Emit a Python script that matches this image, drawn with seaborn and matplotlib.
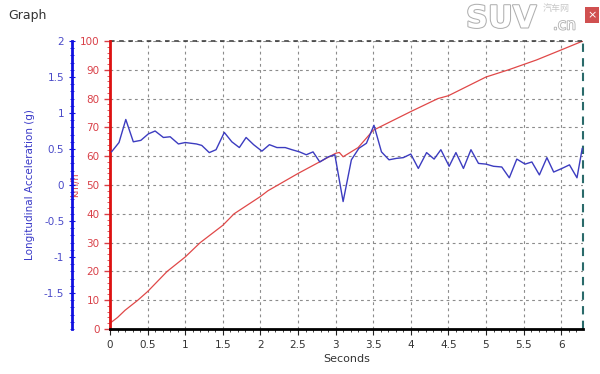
import seaborn as sns
import matplotlib.pyplot as plt
import matplotlib.patheffects as pe
from matplotlib.ticker import MultipleLocator
import pandas as pd

# speed trace (km/h)
t_speed = [0, 0.1, 0.2, 0.37, 0.5, 0.76, 1.0, 1.2, 1.5, 1.65, 2.0, 2.1, 2.5, 2.75,
           3.0, 3.05, 3.1, 3.3, 3.5, 4.0, 4.36, 4.5, 5.0, 5.3, 5.67, 6.0, 6.27, 6.29]
speed = [2, 4, 6.5, 10, 13, 20, 25, 30, 36, 40, 46, 48, 54, 57.5,
         61, 61.3, 59.8, 63, 69, 75.5, 80, 81, 87.5, 90, 93.4, 96.9, 99.8, 100]

# longitudinal acceleration (g)
t_acc = [0.02, 0.12, 0.21, 0.31, 0.41, 0.51, 0.60, 0.71, 0.80, 0.91, 1.00, 1.15, 1.22,
         1.32, 1.41, 1.52, 1.62, 1.72, 1.81, 1.91, 2.02, 2.12, 2.22, 2.33, 2.42, 2.52,
         2.61, 2.70, 2.79, 2.90, 2.99, 3.10, 3.21, 3.31, 3.41, 3.51, 3.61, 3.71, 3.81,
         3.90, 4.00, 4.10, 4.21, 4.31, 4.40, 4.51, 4.60, 4.70, 4.80, 4.90, 5.00, 5.10,
         5.21, 5.31, 5.41, 5.52, 5.61, 5.71, 5.81, 5.90, 6.01, 6.11, 6.21, 6.28]
acc = [0.46, 0.59, 0.91, 0.60, 0.62, 0.71, 0.75, 0.66, 0.67, 0.57, 0.59, 0.57, 0.55,
       0.45, 0.49, 0.73, 0.60, 0.52, 0.66, 0.56, 0.47, 0.56, 0.52, 0.52, 0.49, 0.46,
       0.42, 0.46, 0.32, 0.39, 0.42, -0.23, 0.35, 0.51, 0.58, 0.83, 0.46, 0.35, 0.37,
       0.38, 0.43, 0.23, 0.45, 0.36, 0.49, 0.26, 0.45, 0.23, 0.49, 0.30, 0.29, 0.26,
       0.25, 0.10, 0.36, 0.29, 0.32, 0.14, 0.38, 0.18, 0.23, 0.28, 0.10, 0.51]

x_ticks = [0, 0.5, 1, 1.5, 2, 2.5, 3, 3.5, 4, 4.5, 5, 5.5, 6]
speed_ticks = list(range(0, 101, 10))
acc_ticks = [-1.5, -1, -0.5, 0, 0.5, 1, 1.5, 2]

df_speed = pd.DataFrame({"t": t_speed, "v": speed})
df_acc = pd.DataFrame({"t": t_acc, "g": acc})

sns.set_style("white")
plt.rcParams['font.family'] = ['DejaVu Sans', 'Noto Sans CJK SC']

RED = "#d94048"
BLUE = "#3c3cc0"

fig = plt.figure(figsize=(6, 3.74), dpi=100)
ax = fig.add_axes([110/600, 1-329/374, 473/600, 288/374])
ax2 = ax.twinx()

sns.lineplot(data=df_acc, x="t", y="g", ax=ax2, color=BLUE, lw=1.0)
sns.lineplot(data=df_speed, x="t", y="v", ax=ax, color="#e04848", lw=0.9)

ax.set_xlim(0, 6.29)
ax.set_ylim(0, 100)
ax2.set_ylim(-2, 2)

# grid
ax.set_xticks(x_ticks)
ax.set_xticklabels([f"{v:g}" for v in x_ticks])
ax.set_yticks(speed_ticks)
ax.grid(True, ls=(0, (2.5, 3)), color="#8c8c8c", lw=0.8)
ax.xaxis.set_minor_locator(MultipleLocator(0.1))
ax.yaxis.set_minor_locator(MultipleLocator(2))
ax.tick_params(axis='x', which='major', length=4, color="#222222",
               labelsize=7.5, labelcolor="#333333", pad=4, direction='out', bottom=True)
ax.tick_params(axis='x', which='minor', length=2, color="#222222", bottom=True)
ax.tick_params(axis='y', which='major', length=4, color=RED, labelsize=7.5,
               labelcolor=RED, width=1, direction='out', left=True)
ax.tick_params(axis='y', which='minor', length=2, color=RED, left=True)

ax.spines['left'].set_color("#dd1111")
ax.spines['left'].set_linewidth(2)
ax.spines['bottom'].set_color("black")
ax.spines['bottom'].set_linewidth(2)
ax.spines['top'].set_visible(False)
ax.spines['right'].set_visible(False)
ax.axhline(100, color="#333333", ls=(0, (3, 3)), lw=1.1, clip_on=False)
ax.axvline(6.29, color="#2a6a6a", ls=(0, (4, 3)), lw=1.5, clip_on=False)

ax.set_xlabel("Seconds", fontsize=8, color="#333333", labelpad=3)
ax.set_ylabel("km/h", fontsize=7, color=RED)
ax.yaxis.set_label_coords((80-110)/473, 0.5)

# blue acceleration axis on the left
for s in ['top', 'right', 'bottom']:
    ax2.spines[s].set_visible(False)
ax2.spines['left'].set_visible(True)
ax2.spines['left'].set_position(('axes', (72-110)/473))
ax2.spines['left'].set_color("#1010e0")
ax2.spines['left'].set_linewidth(2)
ax2.yaxis.set_ticks_position('left')
ax2.yaxis.set_label_position('left')
ax2.set_yticks(acc_ticks)
ax2.set_yticklabels([f"{v:g}" for v in acc_ticks])
ax2.yaxis.set_minor_locator(MultipleLocator(0.1))
ax2.tick_params(axis='y', which='major', length=5, direction='inout', color="#1010e0",
                labelsize=7.5, labelcolor="#4a4ac8", pad=3)
ax2.tick_params(axis='y', which='minor', length=3, direction='inout', color="#1010e0")
ax2.set_ylabel("Longitudinal Acceleration (g)", fontsize=7.5, color="#3a3ac8")
ax2.yaxis.set_label_coords((35-110)/473, 0.5)
ax2.set_xlabel("")

fig.text(8/600, 1-16/374, "Graph", fontsize=9, color="#333333", va='center')

# watermark
fig.text(466/600, 1-19/374, "SUV", fontsize=22, color="white", fontweight='bold',
         va='center', path_effects=[pe.withStroke(linewidth=1.5, foreground="#b0b0b0")])
fig.text(543/600, 1-9/374, "汽车网", fontsize=6.5, color="#c8c8c8",
         family=['Noto Sans CJK SC', 'DejaVu Sans'], va='center')
fig.text(553/600, 1-25/374, ".cn", fontsize=11, color="white", va='center',
         path_effects=[pe.withStroke(linewidth=1.2, foreground="#b0b0b0")])
fig.text(592/600, 1-15/374, "×", fontsize=8, color="white", ha='center', va='center',
         bbox=dict(boxstyle="square,pad=0.25", fc="#d05050", ec="none"))

fig.savefig("out.png", dpi=100)
